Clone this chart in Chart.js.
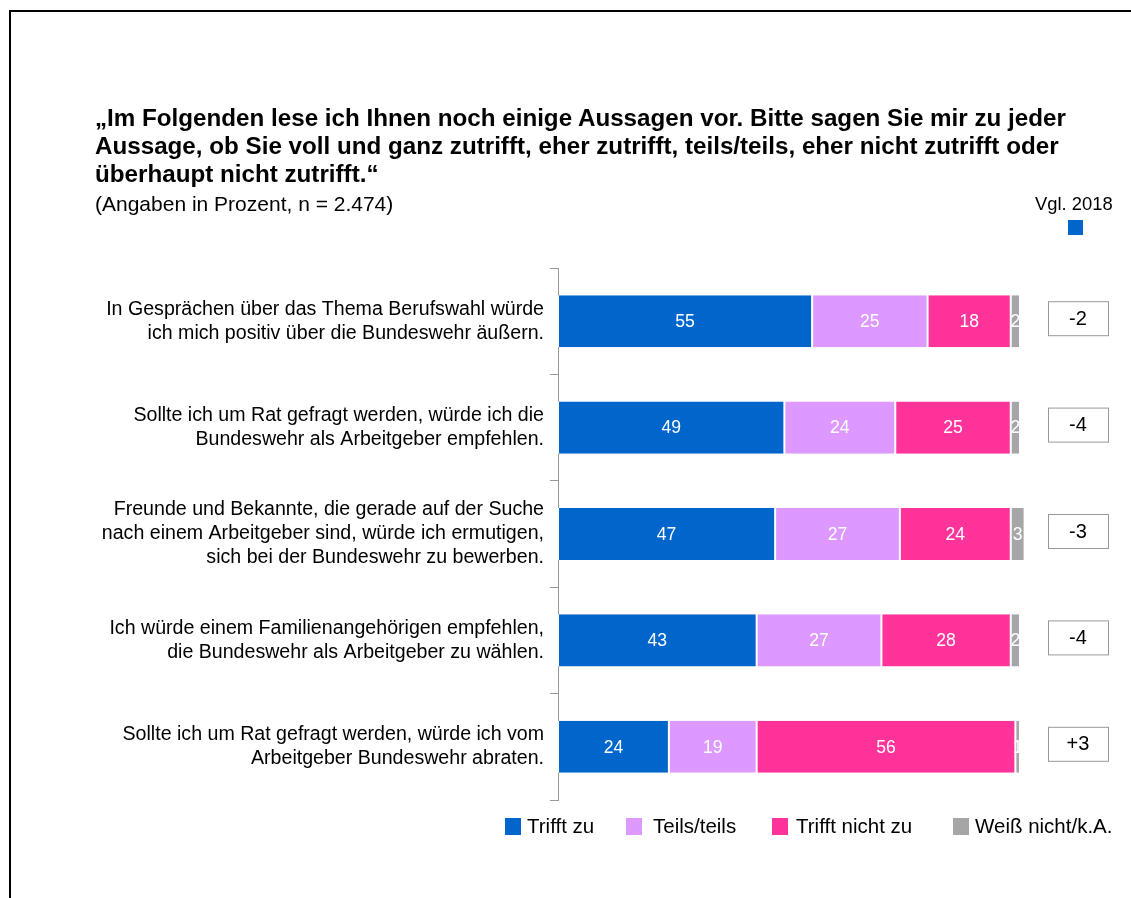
<!DOCTYPE html>
<html>
<head>
<meta charset="utf-8">
<script src="https://cdn.jsdelivr.net/npm/chart.js@4"></script>
<style>
  body { margin:0; background:#fff; font-family:"Liberation Sans", Arial, sans-serif; }
  #wrap { position:relative; width:1131px; height:898px; overflow:hidden; }
  #frame { position:absolute; left:9px; top:10px; width:1200px; height:1000px; border-left:2px solid #000; border-top:2px solid #000; }
  #title { position:absolute; left:95px; top:104px; font-size:24.2px; font-weight:bold; line-height:28px; color:#000; white-space:nowrap; }
  #sub { position:absolute; left:95px; top:192px; font-size:21px; line-height:24px; color:#000; }
  #vgl { position:absolute; left:1035px; top:192px; font-size:18.4px; line-height:24px; color:#000; }
  #vglbox { position:absolute; left:1068px; top:220px; width:15px; height:15px; background:#0066CC; }
  .sq { position:absolute; top:818px; width:16px; height:17px; }
  .lt { position:absolute; top:814px; font-size:20.5px; line-height:24px; color:#000; white-space:nowrap; }
  canvas { position:absolute; left:0; top:0; }
</style>
</head>
<body>
<div id="wrap">
  <div id="frame"></div>
  <canvas id="chart" width="1131" height="898"></canvas>
  <div id="title">„Im Folgenden lese ich Ihnen noch einige Aussagen vor. Bitte sagen Sie mir zu jeder<br>Aussage, ob Sie voll und ganz zutrifft, eher zutrifft, teils/teils, eher nicht zutrifft oder<br>überhaupt nicht zutrifft.“</div>
  <div id="sub">(Angaben in Prozent, n = 2.474)</div>
  <div id="vgl">Vgl. 2018</div>
  <div id="vglbox"></div>
  <div id="legend"></div>
</div>
<script>
// Daten
const statements = [
  ["In Gesprächen über das Thema Berufswahl würde", "ich mich positiv über die Bundeswehr äußern."],
  ["Sollte ich um Rat gefragt werden, würde ich die", "Bundeswehr als Arbeitgeber empfehlen."],
  ["Freunde und Bekannte, die gerade auf der Suche", "nach einem Arbeitgeber sind, würde ich ermutigen,", "sich bei der Bundeswehr zu bewerben."],
  ["Ich würde einem Familienangehörigen empfehlen,", "die Bundeswehr als Arbeitgeber zu wählen."],
  ["Sollte ich um Rat gefragt werden, würde ich vom", "Arbeitgeber Bundeswehr abraten."]
];
const triffZu      = [55, 49, 47, 43, 24];
const teilsTeils   = [25, 24, 27, 27, 19];
const trifftNicht  = [18, 25, 24, 28, 56];
const weissNicht   = [2, 2, 3, 2, 1];
const vgl2018      = ["-2", "-4", "-3", "-4", "+3"];

const seriesNames  = ["Trifft zu", "Teils/teils", "Trifft nicht zu", "Weiß nicht/k.A."];
const seriesColors = ["#0066CC", "#DD99FF", "#FF3399", "#A6A6A6"];
const legendSq     = [505, 626, 772, 953];
const legendTx     = [527, 653, 796, 975];

// Legende
const legend = document.getElementById("legend");
seriesNames.forEach((n, i) => {
  const s = document.createElement("div");
  s.className = "sq";
  s.style.left = legendSq[i] + "px";
  s.style.background = seriesColors[i];
  legend.appendChild(s);
  const t = document.createElement("div");
  t.className = "lt";
  t.style.left = legendTx[i] + "px";
  t.textContent = n;
  legend.appendChild(t);
});

// Werte in den Balken + Vergleichskästen
const labelsPlugin = {
  id: "labels",
  afterDatasetsDraw(chart) {
    const ctx = chart.ctx;
    ctx.save();
    ctx.font = "17.6px 'Liberation Sans', Arial";
    ctx.textAlign = "center";
    ctx.textBaseline = "middle";
    ctx.fillStyle = "#fff";
    chart.data.datasets.forEach((ds, di) => {
      chart.getDatasetMeta(di).data.forEach((el, i) => {
        ctx.fillText(String(ds.data[i]), (el.x + el.base) / 2, el.y + 1);
      });
    });
    const y = chart.scales.y;
    ctx.font = "20px 'Liberation Sans', Arial";
    vgl2018.forEach((v, i) => {
      const cy = y.getPixelForValue(i) - 3;
      ctx.fillStyle = "#fff";
      ctx.fillRect(1048, cy - 17, 60, 34);
      ctx.strokeStyle = "#999";
      ctx.lineWidth = 1;
      ctx.strokeRect(1048.5, cy - 16.5, 60, 34);
      ctx.fillStyle = "#000";
      ctx.fillText(v, 1078, cy + 1);
    });
    ctx.restore();
  }
};

const values = [triffZu, teilsTeils, trifftNicht, weissNicht];

new Chart(document.getElementById("chart"), {
  type: "bar",
  data: {
    labels: statements,
    datasets: values.map((d, i) => ({
      label: seriesNames[i],
      data: d,
      backgroundColor: seriesColors[i],
      borderColor: "#fff",
      borderWidth: { left: 1, right: 1, top: 0, bottom: 0 },
      borderSkipped: false,
      categoryPercentage: 1,
      barPercentage: 0.49,
      clip: false
    }))
  },
  options: {
    responsive: false,
    animation: false,
    indexAxis: "y",
    layout: { padding: { left: 0, right: 111, top: 268, bottom: 98 } },
    plugins: {
      legend: { display: false },
      tooltip: { enabled: false }
    },
    scales: {
      x: {
        stacked: true,
        min: 0,
        max: 100,
        display: false
      },
      y: {
        stacked: true,
        afterFit(scale) { scale.width = 558; },
        grid: {
          offset: true,
          drawOnChartArea: false,
          tickLength: 8,
          color: "#999"
        },
        border: { color: "#999", width: 1 },
        ticks: {
          color: "#000",
          padding: 6,
          font: { family: "'Liberation Sans', Arial", size: 19.6, lineHeight: 1.22 }
        }
      }
    }
  },
  plugins: [labelsPlugin]
});
</script>
</body>
</html>
